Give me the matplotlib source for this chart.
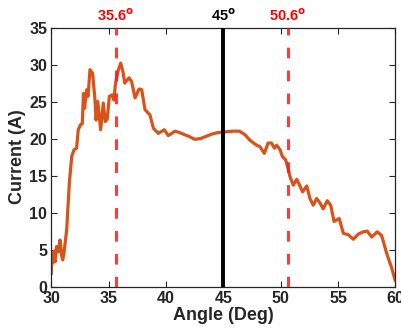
"""
Current vs angle with marked reference angles.
"""

import matplotlib.pyplot as plt

plt.rcParams['font.family'] = ['Liberation Sans', 'DejaVu Sans']
plt.rcParams['font.weight'] = 'bold'
plt.rcParams['mathtext.default'] = 'bf'

# Curve
angle = [30.0, 30.05, 30.15, 30.25, 30.35, 30.45, 30.6, 30.76, 30.9, 30.99, 31.1,
         31.34, 31.57, 31.78, 31.98, 32.2, 32.35, 32.56, 32.7, 32.8, 32.9, 33.08,
         33.2, 33.37, 33.6, 33.81, 33.9, 34.05, 34.3, 34.53, 34.7, 34.87, 35.06,
         35.3, 35.45, 35.6, 35.85, 36.05, 36.25, 36.4, 36.6, 36.78, 37.0, 37.3,
         37.65, 37.88, 38.17, 38.6, 38.9, 39.33, 39.85, 40.2, 40.78, 41.2, 41.66,
         42.0, 42.5, 43.0, 43.5, 43.98, 44.5, 45.14, 45.8, 46.4, 46.9, 47.3, 47.9,
         48.2, 48.57, 48.9, 49.2, 49.45, 49.65, 49.94, 50.14, 50.44, 50.67, 50.8,
         51.1, 51.4, 51.68, 51.9, 52.27, 52.55, 52.84, 53.13, 53.43, 53.7, 54.06,
         54.36, 54.65, 55.1, 55.46, 55.9, 56.33, 56.77, 57.2, 57.55, 57.93, 58.42,
         58.8, 59.24, 59.68, 59.97]
current = [1.8, 4.5, 3.2, 4.8, 3.4, 5.4, 4.7, 6.3, 4.2, 3.6, 4.5,
           7.7, 14.0, 17.6, 18.5, 18.7, 21.2, 21.9, 22.0, 26.1, 24.1, 26.6,
           25.7, 29.3, 28.8, 25.2, 22.5, 25.0, 21.2, 24.8, 22.3, 22.6, 25.7,
           25.9, 25.2, 27.5, 29.3, 30.2, 29.0, 27.5, 27.9, 28.2, 27.7, 25.5,
           26.7, 26.6, 23.9, 23.2, 21.4, 20.7, 21.2, 20.4, 21.0, 20.8, 20.5,
           20.3, 19.9, 20.0, 20.3, 20.6, 20.8, 20.9, 21.0, 21.0, 20.5, 19.8, 19.1,
           18.9, 18.0, 19.4, 19.4, 18.7, 19.1, 18.5, 17.6, 17.1, 15.8, 14.9,
           13.7, 14.5, 13.6, 12.8, 13.6, 11.9, 11.0, 11.9, 11.3, 10.5, 11.6,
           11.0, 8.8, 9.2, 7.2, 7.0, 6.4, 7.1, 7.4, 7.5, 6.7, 7.4,
           6.9, 4.5, 2.5, 0.9]

red_angles = [35.6, 50.6]
black_angle = 45

dark = '#262626'
fig = plt.figure(figsize=(4.01, 3.36), dpi=100)
ax = fig.add_axes([0.128, 0.147, 0.858, 0.771])

ax.plot(angle, current, color='#D95319', linewidth=2.3, zorder=2)

for a in red_angles:
    ax.axvline(a, color='#ff1a1a', linewidth=2.2, alpha=0.85,
               linestyle=(0, (3.5, 4)), zorder=3)
    ax.text(a, 35.5, f'{a}' + r'$^{\mathbf{o}}$', color='#ff0000',
            ha='center', va='bottom', fontsize=10.5, fontweight='bold')
ax.axvline(black_angle, color='black', linewidth=2.8, zorder=3)
ax.text(black_angle, 35.5, f'{black_angle}' + r'$^{\mathbf{o}}$', color='black',
        ha='center', va='bottom', fontsize=10.5, fontweight='bold')

ax.set_xlim(30, 60)
ax.set_ylim(0, 35)
ax.set_xticks(range(30, 61, 5))
ax.set_yticks(range(0, 36, 5))
ax.tick_params(direction='in', top=True, right=True, length=4, width=0.8,
               colors=dark, labelsize=11.5, pad=3)
for s in ax.spines.values():
    s.set_color(dark)
    s.set_linewidth(0.9)

ax.set_xlabel('Angle (Deg)', fontsize=13, fontweight='bold', color=dark, labelpad=1)
ax.set_ylabel('Current (A)', fontsize=13, fontweight='bold', color=dark, labelpad=2)

plt.savefig('out.png', dpi=100)
